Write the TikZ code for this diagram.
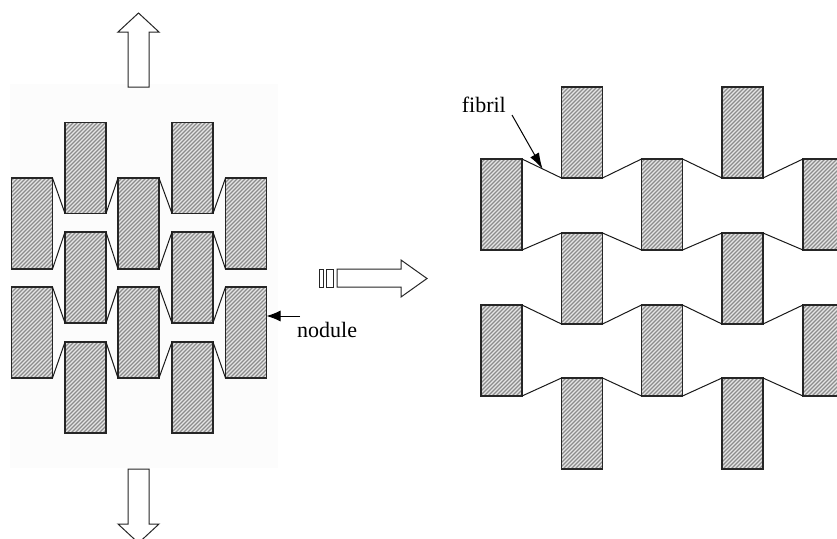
\documentclass[tikz,border=0pt]{standalone}
\usepackage{fontspec}
\setmainfont{Liberation Serif}
\usetikzlibrary{arrows.meta,calc,backgrounds}
\begin{document}
\begin{tikzpicture}[x=1pt,y=-1pt,
  nod/.style={draw=black!85, line width=1.2pt, minimum width=41pt, minimum height=91pt,
    inner sep=0pt, outer sep=0pt},
  hatchline/.style={draw=black!45, line width=1.2pt},
  fib/.style={draw=black!90, line width=1pt},
  hollow/.style={draw=black!85, line width=1pt, fill=white, line join=miter},
  lbl/.style={font=\fontsize{22}{26}\selectfont, inner sep=0pt}
]
\useasboundingbox (0,0) rectangle (837,538);

% ---- unstretched lamellar stack ----
\foreach \n/\x in {A/32,C/138.5,E/246} {
  \node[nod] (\n1) at (\x,223.5) {};
  \node[nod] (\n2) at (\x,332.5) {};
}
\foreach \n/\x in {B/85.5,D/192.5} {
  \node[nod] (\n1) at (\x,168) {};
  \node[nod] (\n2) at (\x,277.5) {};
  \node[nod] (\n3) at (\x,387.5) {};
}
\foreach \p/\q in {A/B,C/D} \foreach \i/\j in {1/2,2/3} {
  \draw[fib] (\p\i.north east) -- (\q\i.south west);
  \draw[fib] (\p\i.south east) -- (\q\j.north west);
}
\foreach \p/\q in {C/B,E/D} \foreach \i/\j in {1/2,2/3} {
  \draw[fib] (\p\i.north west) -- (\q\i.south east);
  \draw[fib] (\p\i.south west) -- (\q\j.north east);
}

% ---- stretched stack ----
\foreach \n/\x in {RA/501.5,RC/662,RE/823.5} {
  \node[nod] (\n1) at (\x,204.5) {};
  \node[nod] (\n2) at (\x,350.5) {};
}
\foreach \n/\x in {RB/582,RD/742.5} {
  \node[nod] (\n1) at (\x,132.5) {};
  \node[nod] (\n2) at (\x,278.5) {};
  \node[nod] (\n3) at (\x,423.5) {};
}
\foreach \p/\q in {RA/RB,RC/RD} \foreach \i/\j in {1/2,2/3} {
  \draw[fib] (\p\i.north east) -- (\q\i.south west);
  \draw[fib] (\p\i.south east) -- (\q\j.north west);
}
\foreach \p/\q in {RC/RB,RE/RD} \foreach \i/\j in {1/2,2/3} {
  \draw[fib] (\p\i.north west) -- (\q\i.south east);
  \draw[fib] (\p\i.south west) -- (\q\j.north east);
}

% ---- hatched fill of all lamellae, behind their outlines ----
\begin{pgfonlayer}{background}
  \fill[black!1] (10,84) rectangle (278,468);
  \begin{scope}
    \clip \foreach \n in {A1,A2,C1,C2,E1,E2,B1,B2,B3,D1,D2,D3,
                          RA1,RA2,RC1,RC2,RE1,RE2,RB1,RB2,RB3,RD1,RD2,RD3}
      {(\n.south west) rectangle (\n.north east)};
    \fill[black!10] (0,0) rectangle (860,538);
    \foreach \k in {0,...,350}
      \draw[hatchline] (4*\k,0) -- (4*\k-540,540);
  \end{scope}
\end{pgfonlayer}

% ---- hollow load arrows ----
\draw[hollow] (128,87) -- (128,32) -- (118,32) -- (138.5,13) -- (159,32)
  -- (149,32) -- (149,87) -- cycle;
\draw[hollow] (128,469) -- (128,524) -- (118,524) -- (138.5,543) -- (159,524)
  -- (149,524) -- (149,469) -- cycle;
\draw[hollow] (319,269) rectangle (323,287);
\draw[hollow] (326,269) rectangle (333,287);
\draw[hollow] (337,269) -- (401,269) -- (401,260) -- (427,278.5) -- (401,297)
  -- (401,287) -- (337,287) -- cycle;

% ---- labels ----
\node[lbl, anchor=base west] (nodule) at (297,337) {nodule};
\coordinate (nodtail) at (300,316);
\draw[line width=1pt, -{Latex[length=14pt,width=11pt]}] (nodtail) -- (nodtail -| E2.east);

\node[lbl, anchor=base east] (fibril) at (506,112) {fibril};
\coordinate (fibtail) at (512,115);
\coordinate (fibtip) at ($(RA1.north east)!0.52!(RB1.south west)$);
\draw[line width=1pt, -{Latex[length=16pt,width=10pt]}] (fibtail) -- (fibtip);
\end{tikzpicture}
\end{document}
